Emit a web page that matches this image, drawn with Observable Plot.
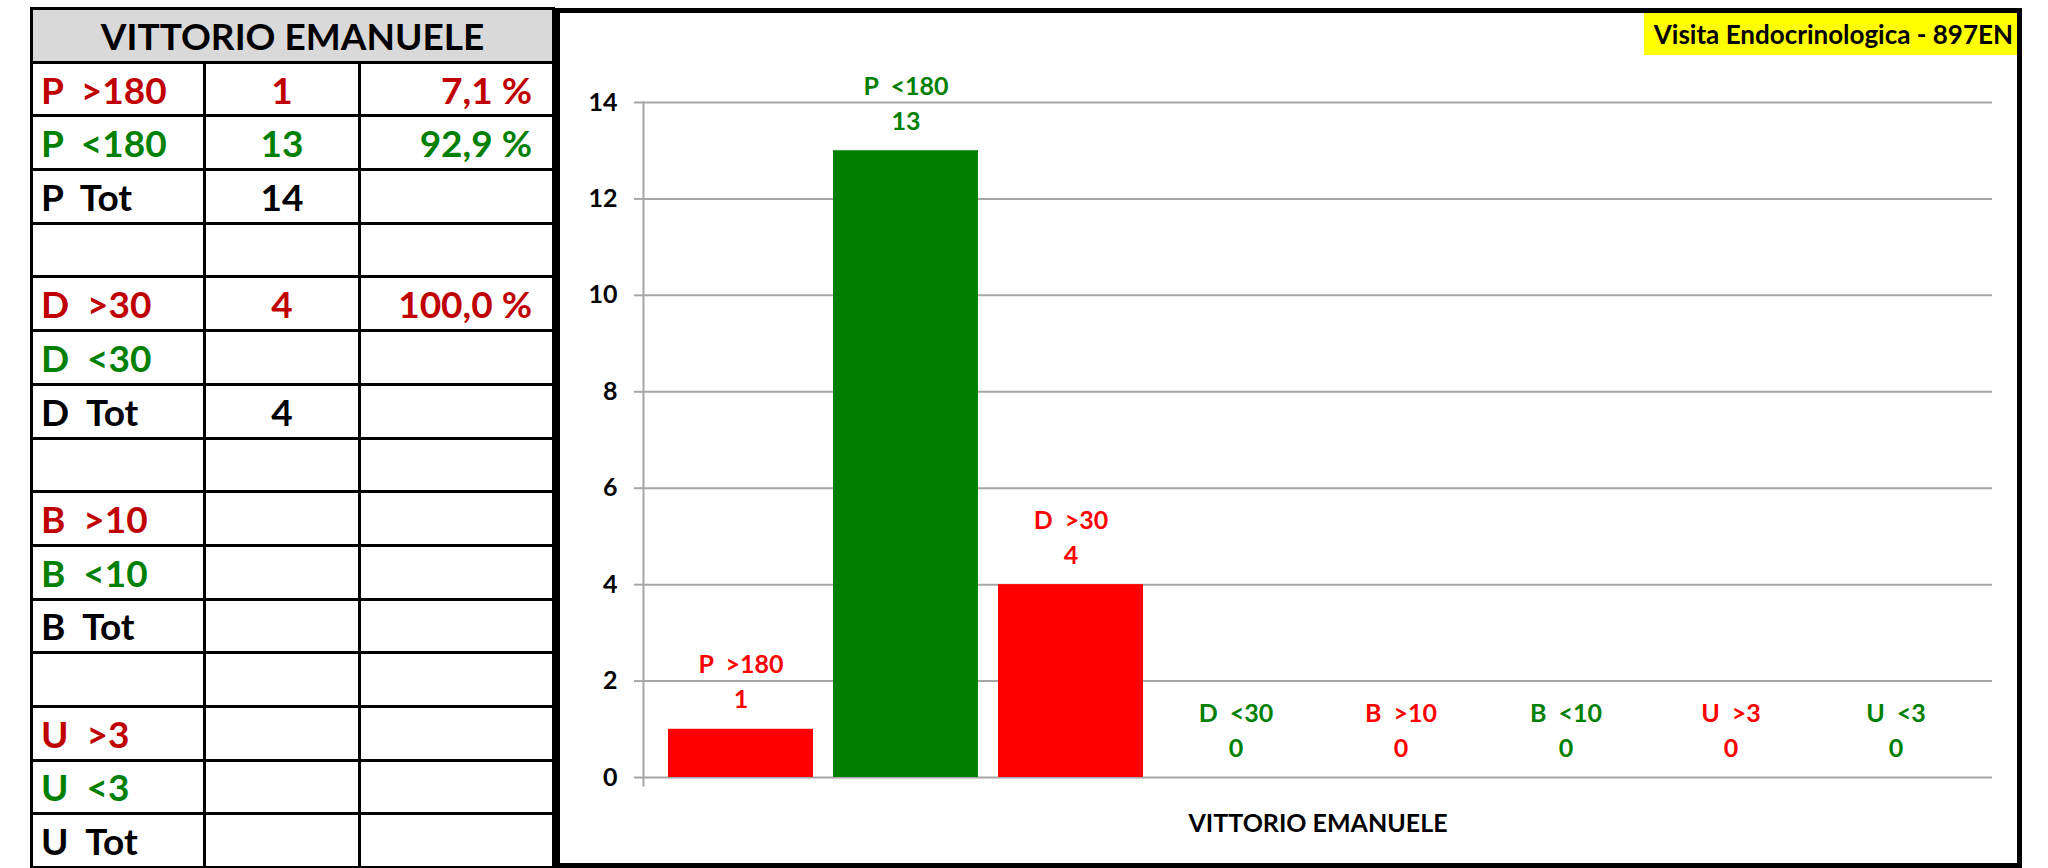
<!DOCTYPE html>
<html><head><meta charset="utf-8">
<script src="https://cdn.jsdelivr.net/npm/d3@7"></script>
<script src="https://cdn.jsdelivr.net/npm/@observablehq/plot@0.6"></script>
<style>
html,body{margin:0;padding:0;background:#fff;width:2048px;height:868px;overflow:hidden;font-family:Lato,"Open Sans",sans-serif;}
#grid{position:absolute;left:30px;top:7px;display:grid;grid-template-columns:170px 152px 191px;grid-template-rows:repeat(16,50.7px);gap:3px;padding:3px;background:#000;}
#grid div{background:#fff;display:flex;align-items:center;font-weight:bold;font-size:37px;white-space:pre;overflow:hidden;}
#grid .hdr{grid-column:1 / span 3;background:#d9d9d9;justify-content:center;font-size:37px;color:#000;}
#grid .lab{justify-content:flex-start;padding-left:8px;}
#grid .cnt{justify-content:center;}
#grid .pct{justify-content:flex-end;padding-right:20px;}
#chartbox{position:absolute;left:555px;top:8px;width:1467px;height:860px;border:5px solid #000;box-sizing:border-box;}
#badge{position:absolute;right:0;top:0;height:42px;line-height:42px;background:#ffff00;padding:0 4px 0 10px;font-weight:bold;font-size:26px;color:#000;}
#plot{position:absolute;left:0;top:0;}
svg text{white-space:pre;}
</style>
</head><body>
<div id="grid"></div>
<div id="chartbox"><div id="plot"></div><div id="badge"></div></div>
<script>
// ---- data ----
const tableTitle = "VITTORIO EMANUELE";
const rowLabels = ["P  >180","P  <180","P  Tot","","D  >30","D  <30","D  Tot","","B  >10","B  <10","B  Tot","","U  >3","U  <3","U  Tot"];
const rowCounts = ["1","13","14","","4","","4","","","","","","","",""];
const rowPercents = ["7,1 %","92,9 %","","","100,0 %","","","","","","","","","",""];

const categories = ["P  >180","P  <180","D  >30","D  <30","B  >10","B  <10","U  >3","U  <3"];
const counts = [1,13,4,0,0,0,0,0];
const yTicks = [0,2,4,6,8,10,12,14];
const axisTitle = "VITTORIO EMANUELE";
const badgeText = "Visita Endocrinologica - 897EN";

// ---- table ----
const tableColor = l => l.includes(">") ? "#c00000" : l.includes("<") ? "#008000" : "#000";
const grid = document.getElementById("grid");
const hdr = document.createElement("div");
hdr.className = "hdr"; hdr.textContent = tableTitle; grid.appendChild(hdr);
rowLabels.forEach((l, i) => {
  [[l, "lab"], [rowCounts[i], "cnt"], [rowPercents[i], "pct"]].forEach(([t, c]) => {
    const d = document.createElement("div");
    d.className = c; d.textContent = t; d.style.color = tableColor(l);
    grid.appendChild(d);
  });
});
document.getElementById("badge").textContent = badgeText;

// ---- chart ----
const data = categories.map((c, i) => ({cat: c, value: counts[i], status: c.includes(">") ? "sopra" : "sotto"}));
const gray = "#a6a6a6";
const chart = Plot.plot({
  width: 1457, height: 850,
  marginLeft: 83, marginRight: 25, marginTop: 89, marginBottom: 86,
  style: {fontFamily: "Lato, sans-serif", background: "transparent", overflow: "visible"},
  x: {type: "band", domain: categories, paddingInner: 0.124, paddingOuter: 0.13, axis: null},
  y: {domain: [0, 14]},
  color: {domain: ["sopra", "sotto"], range: ["#ff0000", "#008000"]},
  marks: [
    Plot.gridY(yTicks, {stroke: gray, strokeOpacity: 1, strokeWidth: 2}),
    Plot.frame({anchor: "left", stroke: gray, strokeWidth: 2, insetBottom: -8}),
    Plot.axisY(yTicks, {anchor: "left", tickSize: 9, tickPadding: 17, stroke: gray, strokeWidth: 2, fill: "#000", fontSize: 25, fontWeight: "bold", label: null}),
    Plot.barY(data, {x: "cat", y: "value", fill: "status"}),
    Plot.text(data, {x: "cat", y: "value", text: d => `${d.cat}\n${d.value}`, fill: "status", lineAnchor: "bottom", dy: -21, lineHeight: 1.4, fontSize: 25, fontWeight: "bold"}),
    Plot.text([axisTitle], {text: d => d, frameAnchor: "bottom", dy: 46, lineAnchor: "middle", fontSize: 25, fontWeight: "bold", fill: "#000"})
  ]
});
document.getElementById("plot").appendChild(chart);
</script>
</body></html>
